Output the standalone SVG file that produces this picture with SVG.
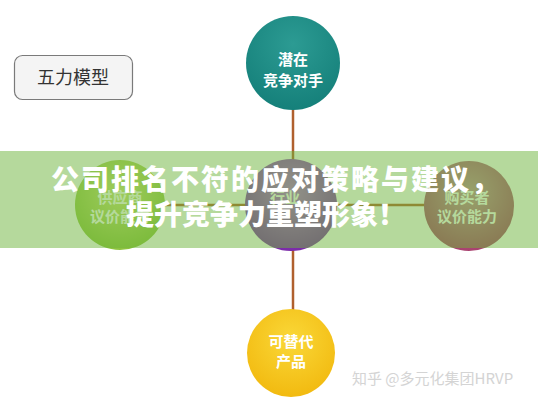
<svg xmlns="http://www.w3.org/2000/svg" width="538" height="400" viewBox="0 0 538 400">
<defs>
<style>
.ct{font-family:"Noto Sans CJK SC","Noto Sans",sans-serif;font-weight:700;font-size:15px;fill:#fff;text-anchor:middle}
.line{stroke:#b0602e;stroke-width:2.5;fill:none}
.title{font-family:"Noto Sans CJK SC","Noto Sans",sans-serif;font-weight:900;font-size:28px;fill:#fff;text-anchor:middle}
</style>
<radialGradient id="gTeal" cx="0.5" cy="0.3" r="0.7"><stop offset="0" stop-color="#2c9b93"/><stop offset="1" stop-color="#15807a"/></radialGradient>
<radialGradient id="gYel" cx="0.5" cy="0.35" r="0.65"><stop offset="0" stop-color="#fad838"/><stop offset="1" stop-color="#f2ba10"/></radialGradient>
<radialGradient id="gGrn" cx="0.5" cy="0.35" r="0.65"><stop offset="0" stop-color="#d2e47e"/><stop offset="1" stop-color="#8cc23e"/></radialGradient>
<radialGradient id="gPur" cx="0.5" cy="0.35" r="0.65"><stop offset="0" stop-color="#b870d8"/><stop offset="1" stop-color="#7a2aa8"/></radialGradient>
<radialGradient id="gMag" cx="0.5" cy="0.35" r="0.65"><stop offset="0" stop-color="#c4909e"/><stop offset="1" stop-color="#a8406e"/></radialGradient>
</defs>
<rect width="538" height="400" fill="#fff"/>
<g id="connectors">
<line class="line" x1="293" y1="105" x2="293" y2="315"/>
<line class="line" x1="120" y1="205" x2="470" y2="205"/>
</g>
<g id="model-label">
<rect x="14.5" y="55.5" width="118" height="44" rx="8" fill="#f4f4f4" stroke="#7a7a7a" stroke-width="1.2"/>
<text x="73" y="84" font-family="Noto Sans CJK SC,sans-serif" font-size="18" fill="#333" text-anchor="middle">五力模型</text>
</g>
<g id="potential-competitors">
<circle cx="293" cy="63" r="47" fill="url(#gTeal)"/>
<text class="ct" x="293" y="65">潜在</text>
<text class="ct" x="293" y="86">竞争对手</text>
</g>
<g id="substitutes">
<circle cx="291" cy="353" r="44" fill="url(#gYel)"/>
<text class="ct" x="291" y="347">可替代</text>
<text class="ct" x="291" y="367">产品</text>
</g>
<g id="suppliers">
<circle cx="120" cy="205" r="45" fill="url(#gGrn)"/>
<text class="ct" x="120" y="203">供应商</text>
<text class="ct" x="120" y="222">议价能力</text>
</g>
<g id="industry">
<circle cx="291" cy="205" r="46" fill="url(#gPur)"/>
<text class="ct" x="285" y="203">行业</text>
</g>
<g id="buyers">
<circle cx="469" cy="206" r="45" fill="url(#gMag)"/>
<text class="ct" x="467" y="203">购买者</text>
<text class="ct" x="467" y="222">议价能力</text>
</g>
<g id="banner">
<rect x="0" y="151" width="538" height="97" fill="#6cb43a" fill-opacity="0.5"/>
<text class="title" x="276" y="190" letter-spacing="2">公司排名不符的应对策略与建议，</text>
<text class="title" x="266" y="225" letter-spacing="0">提升竞争力重塑形象！</text>
</g>
<g id="watermark">
<text x="352" y="384" font-family="Noto Sans CJK SC,sans-serif" font-size="15" fill="#d4d4d4">知乎 @多元化集团HRVP</text>
</g>
</svg>
